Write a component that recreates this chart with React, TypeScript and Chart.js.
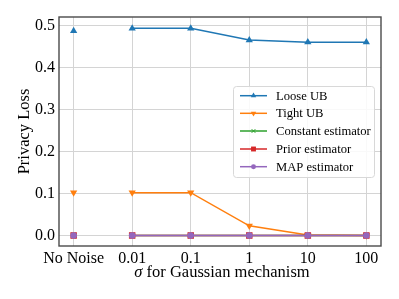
import React, { useEffect, useRef } from "react";
import { Chart, registerables } from "chart.js";
Chart.register(...registerables);

const categories = ["No Noise", "0.01", "0.1", "1", "10", "100"];
const looseUB = [0.487, 0.493, 0.493, 0.465, 0.46, 0.46];
const tightUB = [0.102, 0.102, 0.102, 0.023, 0.001, 0.0];
const constantEst = [0, 0, 0, 0, 0, 0];
const priorEst = [0, 0, 0, 0, 0, 0];
const mapEst = [0, 0, 0, 0, 0, 0];
const yTicks = [0, 0.1, 0.2, 0.3, 0.4, 0.5];

const FONT = "'Liberation Serif', 'Times New Roman', serif";

const series = [
  { label: "Loose UB", data: looseUB, color: "#1f77b4", style: "triangle", rot: 0, r: 4.2 },
  { label: "Tight UB", data: tightUB, color: "#ff7f0e", style: "triangle", rot: 180, r: 4.2 },
  { label: "Constant estimator", data: constantEst, color: "#2ca02c", style: "crossRot", rot: 0, r: 3.5 },
  { label: "Prior estimator", data: priorEst, color: "#d62728", style: "rect", rot: 0, r: 4.6 },
  { label: "MAP estimator", data: mapEst, color: "#9467bd", style: "circle", rot: 0, r: 3.3 },
];

function marker(ctx: CanvasRenderingContext2D, style: string, rot: number, r: number, x: number, y: number) {
  ctx.beginPath();
  if (style === "triangle") {
    const s = rot === 180 ? -1 : 1;
    ctx.moveTo(x, y - s * r);
    ctx.lineTo(x + r * 0.87, y + s * r * 0.5);
    ctx.lineTo(x - r * 0.87, y + s * r * 0.5);
    ctx.closePath();
    ctx.fill();
  } else if (style === "rect") {
    const h = r * Math.SQRT1_2;
    ctx.fillRect(x - h, y - h, 2 * h, 2 * h);
  } else if (style === "circle") {
    ctx.arc(x, y, r, 0, Math.PI * 2);
    ctx.fill();
  } else {
    const h = r * Math.SQRT1_2;
    ctx.moveTo(x - h, y - h);
    ctx.lineTo(x + h, y + h);
    ctx.moveTo(x + h, y - h);
    ctx.lineTo(x - h, y + h);
    ctx.stroke();
  }
}

const framePlugin = {
  id: "frameAndText",
  afterDraw(chart: any) {
    const { ctx, chartArea: a } = chart;
    ctx.save();
    // frame
    ctx.strokeStyle = "#4a4a4a";
    ctx.lineWidth = 1.4;
    ctx.strokeRect(a.left, a.top, a.right - a.left, a.bottom - a.top);
    // legend
    const lx = 233, ly = 86, lw = 141, lh = 91;
    ctx.fillStyle = "rgba(255,255,255,0.85)";
    ctx.strokeStyle = "#d8d8d8";
    ctx.lineWidth = 1;
    ctx.beginPath();
    (ctx as any).roundRect(lx + 0.5, ly + 0.5, lw, lh, 3);
    ctx.fill();
    ctx.stroke();
    const rows = [95.7, 113.3, 131, 149, 166.7];
    series.forEach((s, i) => {
      const y = rows[i];
      ctx.strokeStyle = s.color;
      ctx.lineWidth = 1.5;
      ctx.beginPath();
      ctx.moveTo(240, y);
      ctx.lineTo(267, y);
      ctx.stroke();
      ctx.fillStyle = s.color;
      ctx.strokeStyle = s.color;
      ctx.lineWidth = 1;
      marker(ctx, s.style, s.rot, s.r * 0.75, 253.5, y);
      ctx.fillStyle = "#000";
      ctx.font = "12.6px " + FONT;
      ctx.textBaseline = "middle";
      ctx.textAlign = "left";
      ctx.fillText(s.label, 276, y + 0.5);
    });
    // y title
    ctx.fillStyle = "#000";
    ctx.font = "16.5px " + FONT;
    ctx.textAlign = "center";
    ctx.textBaseline = "middle";
    ctx.save();
    ctx.translate(25, 131.5);
    ctx.rotate(-Math.PI / 2);
    ctx.fillText("Privacy Loss", 0, 0);
    ctx.restore();
    // x title with italic sigma
    const sig = "σ";
    const rest = " for Gaussian mechanism";
    ctx.font = "italic 16.5px " + FONT;
    const w1 = ctx.measureText(sig).width;
    ctx.font = "16.5px " + FONT;
    const w2 = ctx.measureText(rest).width;
    const cx = (a.left + a.right) / 2 + 2;
    const x0 = cx - (w1 + w2) / 2;
    ctx.textAlign = "left";
    ctx.font = "italic 16.5px " + FONT;
    ctx.fillText(sig, x0, 273);
    ctx.font = "16.5px " + FONT;
    ctx.fillText(rest, x0 + w1, 273);
    ctx.restore();
  },
};

export default function App() {
  const ref = useRef<HTMLCanvasElement>(null);
  useEffect(() => {
    document.body.style.margin = "0";
    const ctx = ref.current!.getContext("2d")!;
    const datasets = series.map((s, i) => ({
      label: s.label,
      data: s.data.map((v, j) => ({ x: j, y: v })),
      order: series.length - 1 - i,
      borderColor: s.color,
      backgroundColor: s.color,
      pointBorderColor: s.color,
      pointBackgroundColor: s.color,
      pointStyle: s.style,
      pointRotation: s.rot,
      pointRadius: s.r,
      pointBorderWidth: s.style === "crossRot" ? 1.2 : 0,
      borderWidth: 1.5,
      tension: 0,
      segment: {
        borderColor: (c: any) => (c.p0DataIndex === 0 ? "rgba(0,0,0,0)" : s.color),
      },
    }));
    const chart = new Chart(ctx, {
      type: "line",
      data: { datasets },
      options: {
        animation: false,
        responsive: false,
        maintainAspectRatio: false,
        layout: { padding: { left: 0, right: 18, top: 17, bottom: 0 } },
        plugins: { legend: { display: false }, tooltip: { enabled: false } },
        scales: {
          x: {
            type: "linear",
            min: -0.25,
            max: 5.25,
            afterBuildTicks: (sc: any) => {
              sc.ticks = categories.map((_, i) => ({ value: i }));
            },
            afterFit: (sc: any) => {
              sc.height = 53;
            },
            grid: { color: "#d4d4d4", lineWidth: 1, drawTicks: false },
            border: { display: false },
            ticks: {
              autoSkip: false,
              maxRotation: 0,
              padding: 3,
              color: "#000",
              font: { family: FONT, size: 16 },
              callback: (v: any) => categories[v] ?? "",
            },
          },
          y: {
            type: "linear",
            min: -0.025,
            max: 0.52,
            afterBuildTicks: (sc: any) => {
              sc.ticks = yTicks.map((v) => ({ value: v }));
            },
            afterFit: (sc: any) => {
              sc.width = 59;
            },
            grid: { color: "#d4d4d4", lineWidth: 1, drawTicks: false },
            border: { display: false },
            ticks: {
              padding: 4,
              color: "#000",
              font: { family: FONT, size: 16 },
              callback: (v: any) => Number(v).toFixed(1),
            },
          },
        },
      },
      plugins: [framePlugin],
    });
    return () => chart.destroy();
  }, []);
  return (
    <div style={{ position: "absolute", left: 0, top: 0, width: 399, height: 299 }}>
      <canvas ref={ref} width={399} height={299} style={{ width: 399, height: 299 }} />
    </div>
  );
}
